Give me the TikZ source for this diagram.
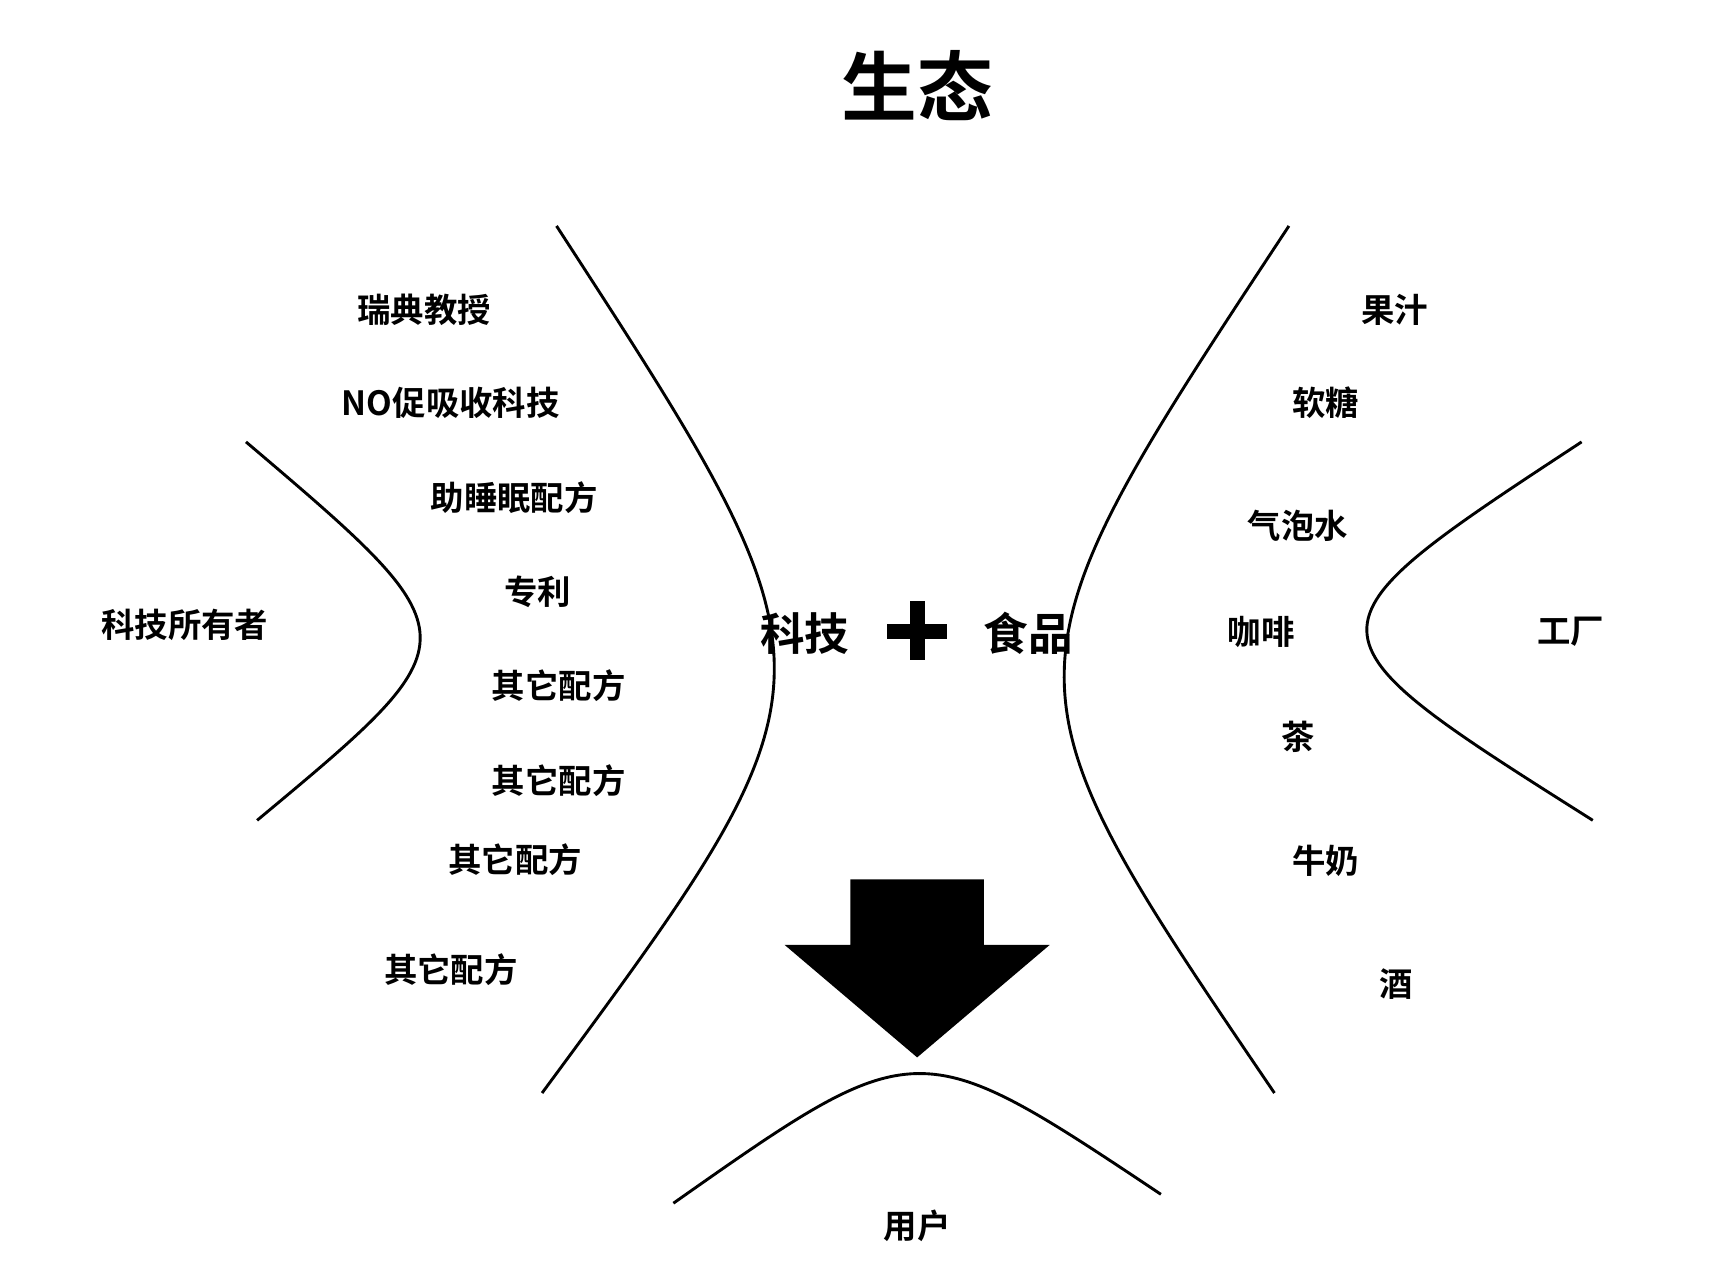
\documentclass[tikz,border=0pt]{standalone}
\usepackage{fontspec}
\newfontfamily\cjk{Noto Sans CJK SC Bold}
\begin{document}
\begin{tikzpicture}[x=0.5pt,y=-0.5pt,
  lbl/.style={font=\cjk\fontsize{15pt}{17pt}\selectfont,inner sep=0pt},
  big/.style={font=\cjk\fontsize{20pt}{22pt}\selectfont,inner sep=0pt},
  arc/.style={line width=1.3pt}]
\useasboundingbox (0,0) rectangle (1548,1152);
\node[font=\cjk\fontsize{34pt}{36pt}\selectfont] (title) at (824,77) {生态};
\draw[arc] (500,203) .. controls (763,608) .. (487,982);
\draw[arc] (221,397) .. controls (428,573) .. (231,737);
\draw[arc] (1158,203) .. controls (891,608) .. (1145,982);
\draw[arc] (1421,397) .. controls (1162,567) .. (1431,737);
\draw[arc] (605,1081) .. controls (824,927) .. (1043,1073);
\node[lbl] (a1) at (381,278) {瑞典教授};
\node[lbl] (a2) at (405,362) {NO促吸收科技};
\node[lbl] (a3) at (462,447) {助睡眠配方};
\node[lbl] (a4) at (483,532) {专利};
\node[lbl] (a5) at (502,616) {其它配方};
\node[lbl] (a6) at (502,701) {其它配方};
\node[lbl] (a7) at (463,772) {其它配方};
\node[lbl] (a8) at (405,871) {其它配方};
\node[lbl] (own) at (166,561) {科技所有者};
\node[lbl] (b1) at (1253,278) {果汁};
\node[lbl] (b2) at (1191,362) {软糖};
\node[lbl] (b3) at (1166,472) {气泡水};
\node[lbl] (b4) at (1133,568) {咖啡};
\node[lbl] (b5) at (1166,662) {茶};
\node[lbl] (b6) at (1191,773) {牛奶};
\node[lbl] (b7) at (1254,884) {酒};
\node[lbl] (fac) at (1411,568) {工厂};
\node[big] (tech) at (723,569) {科技};
\node[big] (food) at (924,569) {食品};
\fill (797,561) rectangle (851,574);
\fill (818,540) rectangle (831,593);
\fill (764,790) -- (884,790) -- (884,849) -- (943,849) -- (824,950) -- (705,849) -- (764,849) -- cycle;
\node[lbl] (user) at (824,1101) {用户};
\end{tikzpicture}
\end{document}
